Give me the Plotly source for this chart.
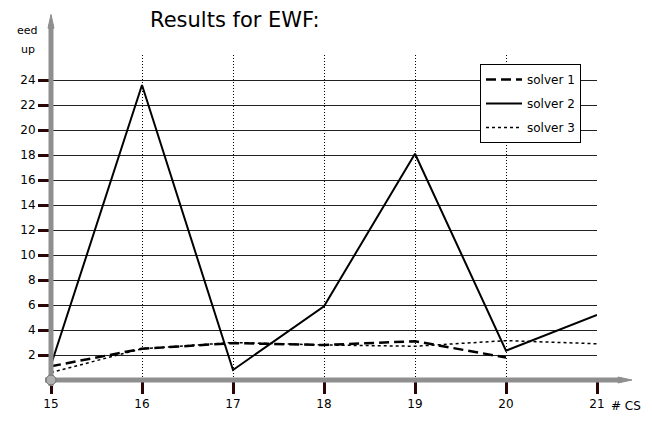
import plotly.graph_objects as go

x_vals = [15, 16, 17, 18, 19, 20, 21]
solver1 = [1.1, 2.5, 2.95, 2.8, 3.1, 1.8]
solver2 = [1.2, 23.6, 0.8, 5.9, 18.1, 2.35, 5.2]
solver3 = [0.6, 2.5, 3.0, 2.8, 2.7, 3.15, 2.9]
y_ticks = [2, 4, 6, 8, 10, 12, 14, 16, 18, 20, 22, 24]

# page has an 8px body margin; figure sized to fill the rest of the window
OFF = 8
W, H = 652 - OFF, 423 - OFF
L, R, T, B = 51 - OFF, 55, 55 - OFF, 40
pw = W - L - R
ph = H - T - B
FONT = "DejaVu Sans, Liberation Sans, Arial, sans-serif"

fig = go.Figure()
fig.add_trace(go.Scatter(x=x_vals[:len(solver1)], y=solver1, mode="lines", name="solver 1",
                         line=dict(color="black", width=2.5, dash="10px,5px"), legendgroup="a"))
fig.add_trace(go.Scatter(x=x_vals, y=solver2, mode="lines", name="solver 2",
                         line=dict(color="black", width=2), legendgroup="b"))
fig.add_trace(go.Scatter(x=x_vals, y=solver3, mode="lines", name="solver 3",
                         line=dict(color="black", width=1.5, dash="dot"), legendgroup="c"))

axis_col = "#8f8f8f"
tick_col = "#2a0505"
# helpers take screen pixel positions (as measured on the reference)
def px_x(p):
    return (p - OFF - L) / pw
def px_y(p):
    return (H - B - (p - OFF)) / ph

shapes = [
    dict(type="line", xref="paper", yref="paper", x0=px_x(45), x1=px_x(622), y0=0, y1=0,
         line=dict(color=axis_col, width=5), layer="above"),
    dict(type="path", xref="paper", yref="paper",
         path=f"M {px_x(618)} {px_y(380)} L {px_x(632)} {px_y(383)} L {px_x(618)} {px_y(386)} Z",
         fillcolor=axis_col, line=dict(color=axis_col, width=1), layer="above"),
    dict(type="line", xref="paper", yref="paper", x0=0, x1=0, y0=px_y(389), y1=px_y(24),
         line=dict(color=axis_col, width=5), layer="above"),
    dict(type="path", xref="paper", yref="paper",
         path=f"M {px_x(48)} {px_y(28)} L {px_x(51)} {px_y(14)} L {px_x(54)} {px_y(28)} Z",
         fillcolor=axis_col, line=dict(color=axis_col, width=1), layer="above"),
    dict(type="circle", xref="paper", yref="paper", x0=px_x(46), x1=px_x(56), y0=px_y(388), y1=px_y(378),
         fillcolor="#b0b0b0", line=dict(color="#707070", width=1), layer="above"),
]

fig.update_layout(
    width=W, height=H,
    margin=dict(l=L, r=R, t=T, b=B),
    paper_bgcolor="white", plot_bgcolor="white",
    font=dict(family=FONT, size=12, color="black"),
    title=dict(text="Results for EWF:", x=(150 - OFF) / W, xanchor="left", y=1 - (20 - OFF) / H,
               yanchor="middle", font=dict(size=21, color="black", family=FONT)),
    showlegend=True,
    legend=dict(x=px_x(480), y=px_y(64), xanchor="left", yanchor="top",
                bgcolor="white", bordercolor="black", borderwidth=1,
                font=dict(size=12, color="black"), traceorder="grouped", tracegroupgap=5,
                itemwidth=36),
    xaxis=dict(range=[15, 21], tickmode="array", tickvals=x_vals, showgrid=True, gridcolor="black",
               gridwidth=1, griddash="1px,2px", zeroline=False, showline=False,
               ticks="outside", ticklen=13, tickwidth=3, tickcolor=tick_col,
               tickfont=dict(size=12, color="black")),
    yaxis=dict(range=[0, 26], tickmode="array", tickvals=y_ticks, showgrid=False, zeroline=False,
               showline=False, ticks="outside", ticklen=12, tickwidth=3, tickcolor=tick_col,
               tickfont=dict(size=12, color="black"),
               minor=dict(dtick=2, tick0=0, showgrid=True, gridcolor="#222222", gridwidth=1)),
    shapes=shapes,
    annotations=[
        dict(text="eed", xref="paper", yref="paper", x=px_x(40), y=px_y(30), xanchor="right",
             yanchor="middle", showarrow=False, font=dict(size=11, color="black")),
        dict(text="up", xref="paper", yref="paper", x=px_x(37), y=px_y(49), xanchor="right",
             yanchor="middle", showarrow=False, font=dict(size=11, color="black")),
        dict(text="# CS", xref="paper", yref="paper", x=px_x(609), y=px_y(409), xanchor="left",
             yanchor="middle", showarrow=False, font=dict(size=12, color="black")),
    ],
)

fig.write_html("out.html")
